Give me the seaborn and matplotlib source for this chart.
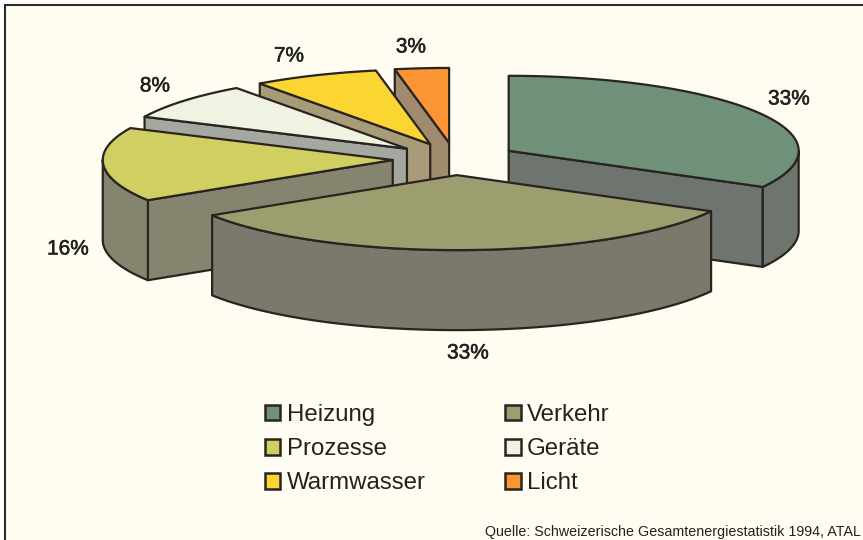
# -*- coding: utf-8 -*-
# Gesamtenergie nach Verwendungszweck, explodierte 3D-Torte
import numpy as np
import matplotlib
matplotlib.use('Agg')
from matplotlib import pyplot as plt
from matplotlib import patheffects
from matplotlib.patches import Patch, Polygon, Rectangle
import seaborn as sns

# Daten
categories = ['Heizung', 'Verkehr', 'Prozesse', 'Geräte', 'Warmwasser', 'Licht']
shares = [33, 33, 16, 8, 7, 3]
share_labels = ['33%', '33%', '16%', '8%', '7%', '3%']
source_text = 'Quelle: Schweizerische Gesamtenergiestatistik 1994, ATAL'

# Farben
top_colors = ['#6f9079', '#9d9e70', '#cfcf62', '#f1f3e2', '#fbd633', '#fb9533']
arc_colors = ['#6e756f', '#7b786c', '#85846f', '#a5a8a0', '#a89c78', '#a08b6e']
line_color = '#2a2320'
paper_color = '#fffdf1'

# Geometrie in Pixeln des Bildes
center_x, center_y = 455, 159
radius_x, radius_y = 290, 75
depth = 80
explode = 0.215
label_pos = [(789, 99), (468, 353), (68, 249), (155, 86), (289, 56), (411, 47)]

sns.set_theme(style='white')
plt.rcParams['font.family'] = ['Liberation Sans', 'DejaVu Sans']
palette = sns.color_palette(top_colors)


def project(angle, x0, y0, r=1.0):
    # Winkel im Uhrzeigersinn ab Norden
    return x0 + r * radius_x * np.sin(angle), y0 - r * radius_y * np.cos(angle)


def wall(ax, x, y, color, zorder):
    xs = np.concatenate([x, x[::-1]])
    ys = np.concatenate([y, y[::-1] + depth])
    ax.add_patch(Polygon(np.column_stack([xs, ys]), closed=True, facecolor=color,
                         edgecolor=line_color, lw=1.6, joinstyle='round', zorder=zorder))


def draw_slice(ax, start, end, top, side, zorder):
    mid = (start + end) / 2
    x0, y0 = project(mid, center_x, center_y, explode)
    # sichtbare Schnittflaechen
    if np.cos(start - np.pi / 2) < 0:
        sx, sy = project(start, x0, y0)
        wall(ax, np.array([x0, sx]), np.array([y0, sy]), side, zorder)
    if np.cos(end + np.pi / 2) < 0:
        sx, sy = project(end, x0, y0)
        wall(ax, np.array([x0, sx]), np.array([y0, sy]), side, zorder)
    # Aussenwand, nur die vordere Haelfte der Ellipse
    a0, a1 = max(start, np.pi / 2), min(end, 1.5 * np.pi)
    if a1 > a0:
        ang = np.linspace(a0, a1, 80)
        wall(ax, *project(ang, x0, y0), side, zorder)
    # Deckflaeche
    ang = np.linspace(start, end, 120)
    ax_x, ax_y = project(ang, x0, y0)
    pts = np.column_stack([np.r_[x0, ax_x], np.r_[y0, ax_y]])
    ax.add_patch(Polygon(pts, closed=True, facecolor=top, edgecolor=line_color,
                         lw=1.6, joinstyle='round', zorder=zorder))


fig = plt.figure(figsize=(8.63, 5.4), dpi=100, facecolor='white')
ax = fig.add_axes([0, 0, 1, 1])
ax.set_xlim(0, 863)
ax.set_ylim(540, 0)
ax.axis('off')

# Rahmen nur links und oben sichtbar, rechts und unten laeuft er aus dem Bild
ax.add_patch(Rectangle((5, 5), 880, 550, facecolor=paper_color,
                       edgecolor='#2b2b2b', lw=1.5, zorder=0))

edges = np.cumsum([0] + shares) / sum(shares) * 2 * np.pi
# von hinten nach vorne zeichnen
for i, z in zip([5, 4, 3, 2, 0, 1], range(1, 7)):
    draw_slice(ax, edges[i], edges[i + 1], palette[i], arc_colors[i], z)

for txt, (x, y) in zip(share_labels, label_pos):
    ax.text(x, y, txt, ha='center', va='center', fontsize=15, color='#222222', zorder=10,
            path_effects=[patheffects.withStroke(linewidth=0.4, foreground='#222222')])

# Legende spaltenweise: linke Spalte zuerst
order = [0, 2, 4, 1, 3, 5]
handles = [Patch(facecolor=palette[i], edgecolor=line_color, lw=1.8) for i in order]
ax.legend(handles, [categories[i] for i in order], ncol=2, frameon=False, fontsize=17.3,
          loc='upper left', bbox_to_anchor=(265 / 863, 1 - 404 / 540),
          borderaxespad=0, borderpad=0, handlelength=0.64, handleheight=0.64,
          handletextpad=0.27, columnspacing=3.3, labelspacing=0.5,
          labelcolor='#222222')

ax.text(485, 532, source_text, ha='left', va='center', fontsize=10.3, color='#222222', zorder=10)

fig.savefig('out.png', dpi=100)
